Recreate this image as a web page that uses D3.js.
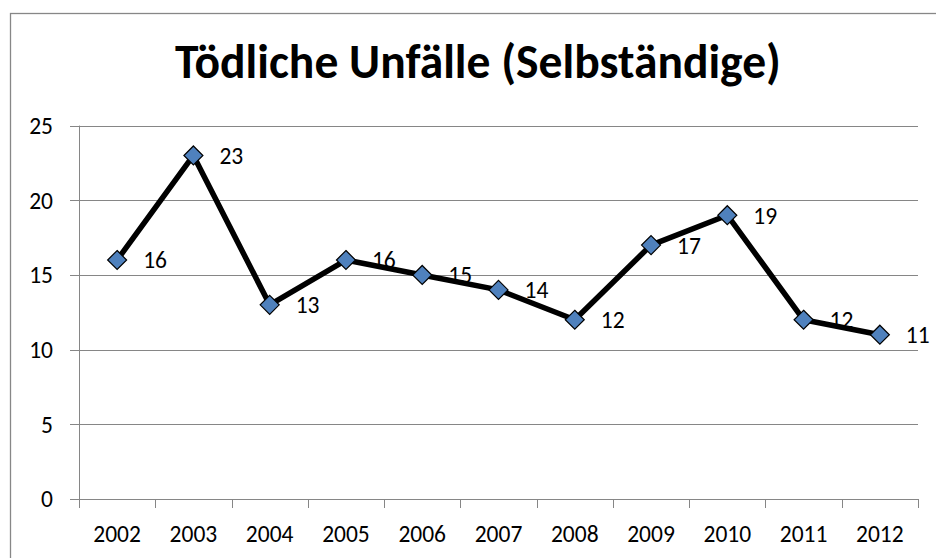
<!DOCTYPE html>
<html>
<head>
<meta charset="utf-8">
<script src="https://cdn.jsdelivr.net/npm/d3@7"></script>
<style>
  html,body{margin:0;padding:0;background:#fff;overflow:hidden;}
  svg{display:block;}
  text{font-family:Carlito,Lato,"Open Sans",sans-serif;fill:#000;}
</style>
</head>
<body>
<div id="chart"></div>
<script>
const title = "Tödliche Unfälle (Selbständige)";
const years = ["2002","2003","2004","2005","2006","2007","2008","2009","2010","2011","2012"];
const deaths = [16,23,13,16,15,14,12,17,19,12,11];
const yTicks = [0,5,10,15,20,25];

(function(){
  const W = 936, H = 558;
  const svg = d3.select("#chart").append("svg")
      .attr("width",W).attr("height",H);

  // outer chart border (runs off right/bottom edge)
  svg.append("rect")
    .attr("x",10.5).attr("y",13.5)
    .attr("width",W+20).attr("height",H+20)
    .attr("fill","#fff").attr("stroke","#878787").attr("stroke-width",1.3);

  const left=79, right=918, top=125.6, bottom=499;

  const x = d3.scaleBand().domain(years).range([left,right]);
  const y = d3.scaleLinear().domain([0,25]).range([bottom,top]);

  // title, fitted to width
  const t = svg.append("text")
    .attr("x",478).attr("y",78)
    .attr("text-anchor","middle")
    .attr("font-weight","bold")
    .attr("font-size",40)
    .text(title);
  const len = t.node().getComputedTextLength();
  t.attr("font-size", Math.min(48, 40*606/len));

  // gridlines
  svg.append("g").selectAll("line")
    .data(yTicks)
    .join("line")
    .attr("x1",left-9).attr("x2",right)
    .attr("y1",d=>Math.round(y(d))+0.5).attr("y2",d=>Math.round(y(d))+0.5)
    .attr("stroke","#868686").attr("stroke-width",1);

  // y axis line
  svg.append("line")
    .attr("x1",left+0.5).attr("x2",left+0.5)
    .attr("y1",top).attr("y2",bottom+9)
    .attr("stroke","#868686");

  // x tick marks at band edges
  const edges = years.map(d=>x(d)).concat([right]);
  svg.append("g").selectAll("line")
    .data(edges)
    .join("line")
    .attr("x1",d=>Math.round(d)+0.5).attr("x2",d=>Math.round(d)+0.5)
    .attr("y1",bottom).attr("y2",bottom+9)
    .attr("stroke","#868686");

  // y labels
  svg.append("g").selectAll("text")
    .data(yTicks)
    .join("text")
    .attr("x",53).attr("y",d=>y(d))
    .attr("dy","0.36em")
    .attr("text-anchor","end")
    .attr("font-size",23.5)
    .text(d=>d);

  // x labels
  svg.append("g").selectAll("text")
    .data(years)
    .join("text")
    .attr("x",d=>x(d)+x.bandwidth()/2).attr("y",542)
    .attr("text-anchor","middle")
    .attr("font-size",23.5)
    .text(d=>d);

  const pts = years.map((d,i)=>({year:d,v:deaths[i]}));
  const cx = d=>x(d.year)+x.bandwidth()/2;

  // line
  svg.append("path")
    .datum(pts)
    .attr("fill","none")
    .attr("stroke","#000")
    .attr("stroke-width",5.5)
    .attr("stroke-linejoin","round")
    .attr("d",d3.line().x(cx).y(d=>y(d.v)));

  // markers
  svg.append("g").selectAll("path")
    .data(pts)
    .join("path")
    .attr("transform",d=>`translate(${cx(d)},${y(d.v)})`)
    .attr("d","M0,-9.5L9.5,0L0,9.5L-9.5,0Z")
    .attr("fill","#4F81BD")
    .attr("stroke","#000")
    .attr("stroke-width",1.2);

  // data labels
  svg.append("g").selectAll("text")
    .data(pts)
    .join("text")
    .attr("x",d=>cx(d)+26).attr("y",d=>y(d.v))
    .attr("dy","0.36em")
    .attr("font-size",23.5)
    .text(d=>d.v);
})();
</script>
</body>
</html>
